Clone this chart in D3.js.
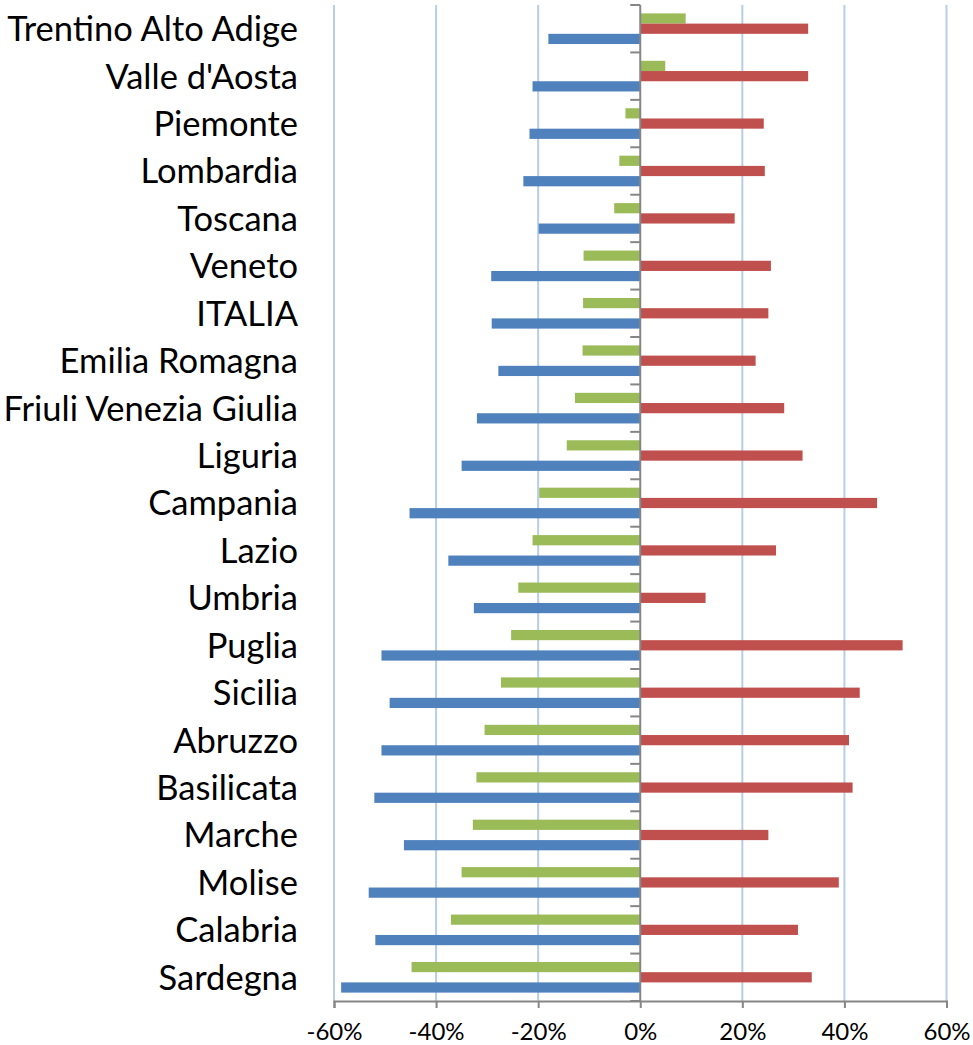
<!DOCTYPE html>
<html>
<head>
<meta charset="utf-8">
<script src="https://cdn.jsdelivr.net/npm/d3@7"></script>
<style>
  body { margin: 0; background: #fff; }
  svg { display: block; }
</style>
</head>
<body>
<svg width="973" height="1045"></svg>
<script>
// regioni, dall'alto verso il basso
var regioni = ['Trentino Alto Adige', "Valle d'Aosta", 'Piemonte', 'Lombardia', 'Toscana',
  'Veneto', 'ITALIA', 'Emilia Romagna', 'Friuli Venezia Giulia', 'Liguria', 'Campania',
  'Lazio', 'Umbria', 'Puglia', 'Sicilia', 'Abruzzo', 'Basilicata', 'Marche', 'Molise',
  'Calabria', 'Sardegna']

// valori in %
var serieVerde = [8.9, 4.9, -2.9, -4.1, -5.1, -11.1, -11.2, -11.3, -12.8, -14.4, -19.8,
  -21.1, -23.9, -25.3, -27.3, -30.5, -32.1, -32.8, -35.0, -37.1, -44.8]
var serieRossa = [32.9, 32.9, 24.2, 24.4, 18.5, 25.6, 25.1, 22.6, 28.2, 31.8, 46.4,
  26.6, 12.8, 51.4, 43.0, 40.9, 41.6, 25.1, 38.9, 30.9, 33.6]
var serieBlu = [-18.0, -21.1, -21.7, -22.9, -19.9, -29.2, -29.1, -27.8, -32.0, -35.0, -45.2,
  -37.6, -32.6, -50.7, -49.1, -50.7, -52.1, -46.3, -53.2, -51.9, -58.6]

var tickValues = [-60, -40, -20, 0, 20, 40, 60]

var serie = [
  { key: 'verde', values: serieVerde, color: '#9BBB59' },
  { key: 'rossa', values: serieRossa, color: '#C0504D' },
  { key: 'blu', values: serieBlu, color: '#4F81BD' }
]

var yTop = 5
var yBottom = 1001
var xLeft = 334
var xRight = 946.5

var x = d3.scaleLinear()
  .domain([-60, 60])
  .range([xLeft, xRight])

var y = d3.scaleBand()
  .domain(regioni)
  .range([yTop, yBottom])
  .paddingInner(0.354)
  .paddingOuter(0.177)

var ySub = d3.scaleBand()
  .domain(serie.map(s => s.key))
  .range([0, y.bandwidth()])

var svg = d3.select('svg')

// griglia verticale
svg.append('g')
  .selectAll('line')
  .data(tickValues.filter(v => v !== 0))
  .enter()
  .append('line')
  .attr('x1', d => x(d))
  .attr('x2', d => x(d))
  .attr('y1', yTop)
  .attr('y2', yBottom)
  .attr('stroke', '#B9CDE5')
  .attr('stroke-width', 2)

// barre
var rows = svg.append('g')
  .selectAll('g')
  .data(regioni)
  .enter()
  .append('g')
  .attr('transform', d => 'translate(0,' + y(d) + ')')

rows.selectAll('rect')
  .data((d, i) => serie.map(s => ({ key: s.key, value: s.values[i], color: s.color })))
  .enter()
  .append('rect')
  .attr('x', d => x(Math.min(0, d.value)))
  .attr('width', d => Math.abs(x(d.value) - x(0)))
  .attr('y', d => ySub(d.key))
  .attr('height', ySub.bandwidth())
  .attr('fill', d => d.color)

// asse x in basso
var xAxis = d3.axisBottom(x)
  .tickValues(tickValues)
  .tickSize(7)
  .tickFormat(d => d + '%')

var gx = svg.append('g')
  .attr('transform', 'translate(0,' + yBottom + ')')
  .call(xAxis)
gx.select('.domain').attr('stroke', '#868686').attr('stroke-width', 2)
gx.selectAll('.tick line').attr('stroke', '#868686').attr('stroke-width', 2)
gx.selectAll('.tick text')
  .attr('y', 22)
  .attr('dy', '0.71em')
  .attr('fill', '#000')
  .style('font-family', 'Lato, "Open Sans", sans-serif')
  .style('font-size', '24px')

// asse verticale sullo zero con tacche ai confini delle categorie
var zero = svg.append('g')
zero.append('line')
  .attr('x1', x(0)).attr('x2', x(0))
  .attr('y1', yTop).attr('y2', yBottom)
  .attr('stroke', '#868686')
  .attr('stroke-width', 2)
zero.selectAll('line.tacca')
  .data(d3.range(regioni.length + 1))
  .enter()
  .append('line')
  .attr('class', 'tacca')
  .attr('x1', x(0) - 10).attr('x2', x(0))
  .attr('y1', i => yTop + i * y.step())
  .attr('y2', i => yTop + i * y.step())
  .attr('stroke', '#868686')
  .attr('stroke-width', 2)

// etichette regioni
svg.append('g')
  .selectAll('text')
  .data(regioni)
  .enter()
  .append('text')
  .attr('x', 298)
  .attr('y', d => y(d) + y.bandwidth() / 2)
  .attr('dy', '0.36em')
  .attr('text-anchor', 'end')
  .style('font-family', 'Lato, "Open Sans", sans-serif')
  .style('font-size', '34.5px')
  .text(d => d)
</script>
</body>
</html>
